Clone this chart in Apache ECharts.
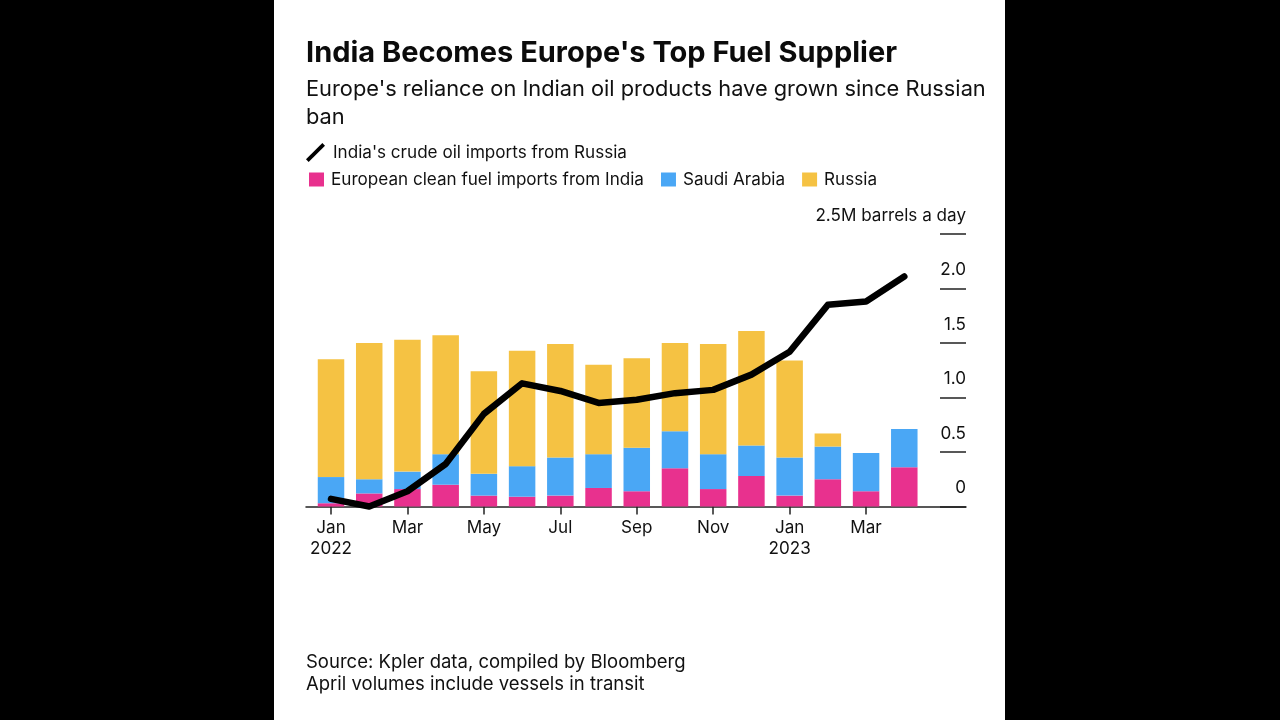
<!DOCTYPE html>
<html>
<head>
<meta charset="utf-8">
<style>
  html, body { margin: 0; padding: 0; background: #000; }
  #panel { position: absolute; left: 274px; top: 0; width: 731px; height: 720px; background: #fff; }
  #main { position: absolute; left: 0; top: 0; width: 1280px; height: 720px; }
</style>
<script src="https://cdn.jsdelivr.net/npm/echarts@6/dist/echarts.min.js"></script>
</head>
<body>
<div id="panel"></div>
<div id="main"></div>
<script>
const months = ['Jan\n2022', 'Feb', 'Mar', 'Apr', 'May', 'Jun', 'Jul', 'Aug', 'Sep', 'Oct', 'Nov', 'Dec', 'Jan\n2023', 'Feb', 'Mar', 'Apr']
const india = [0.03, 0.12, 0.16, 0.20, 0.10, 0.09, 0.10, 0.17, 0.14, 0.35, 0.16, 0.28, 0.10, 0.25, 0.14, 0.36]
const saudi = [0.24, 0.13, 0.16, 0.28, 0.20, 0.28, 0.35, 0.31, 0.40, 0.34, 0.32, 0.28, 0.35, 0.30, 0.35, 0.35]
const russia = [1.08, 1.25, 1.21, 1.09, 0.94, 1.06, 1.04, 0.82, 0.82, 0.81, 1.01, 1.05, 0.89, 0.12, 0, 0]
const crude = [0.07, 0.00, 0.14, 0.39, 0.85, 1.13, 1.06, 0.95, 0.98, 1.04, 1.07, 1.21, 1.42, 1.85, 1.88, 2.11]
const yTicks = { 0: '0', 0.5: '0.5', 1: '1.0', 1.5: '1.5', 2: '2.0', 2.5: '2.5M barrels a day' }

const font = 'Inter'
const ink = '#111'
const bar = function (name, arr, color) {
  return {
    name: name,
    type: 'bar',
    stack: 'fuel',
    barWidth: 26.5,
    data: arr,
    itemStyle: { color: color },
    emphasis: { disabled: true }
  }
}

const myChart = echarts.init(document.getElementById('main'))
myChart.setOption({
  animation: false,
  textStyle: { fontFamily: font },
  title: [
    {
      text: "India Becomes Europe's Top Fuel Supplier",
      left: 306, top: 39, padding: 0,
      textStyle: { fontFamily: font, fontSize: 29, fontWeight: 700, color: '#0b0b0b' }
    },
    {
      text: "Europe's reliance on Indian oil products have grown since Russian\nban",
      left: 306, top: 75, padding: 0,
      textStyle: { fontFamily: font, fontSize: 21.8, fontWeight: 400, lineHeight: 28.5, color: ink }
    },
    {
      text: 'Source: Kpler data, compiled by Bloomberg\nApril volumes include vessels in transit',
      left: 306, top: 651, padding: 0,
      textStyle: { fontFamily: font, fontSize: 18.5, fontWeight: 400, lineHeight: 22, color: ink }
    }
  ],
  legend: [
    {
      data: [{
        name: "India's crude oil imports from Russia",
        icon: 'path://M0 15.5 L2.5 18 L18 2.5 L15.5 0 Z',
        itemStyle: { color: '#000' }
      }],
      left: 306, top: 143, padding: 0,
      itemWidth: 19, itemHeight: 19, selectedMode: false,
      textStyle: { fontSize: 17.1, color: ink, padding: [0, 0, 0, 3] }
    },
    {
      data: ['European clean fuel imports from India', 'Saudi Arabia', 'Russia'],
      left: 309, top: 171, padding: 0,
      icon: 'rect',
      itemWidth: 15, itemHeight: 14, itemGap: 17, selectedMode: false,
      textStyle: { fontSize: 17.1, color: ink, padding: [0, 0, 0, 2] }
    }
  ],
  // first grid holds the bars, second one only the long baseline and the right hand scale
  grid: [
    { left: 311.9, width: 611.5, top: 234, bottom: 213.5 },
    { left: 306, right: 314, top: 234, bottom: 213.5 }
  ],
  xAxis: [
    {
      type: 'category',
      gridIndex: 0,
      data: months,
      axisLine: { show: false },
      axisTick: { show: true, alignWithLabel: true, interval: 1, length: 8, lineStyle: { color: '#222', width: 1.5 } },
      axisLabel: { interval: 1, margin: 11, fontSize: 17.1, lineHeight: 21, color: ink }
    },
    {
      type: 'value',
      gridIndex: 1,
      min: 0,
      max: 1,
      splitLine: { show: false },
      axisLine: { onZero: false, lineStyle: { color: '#222', width: 1.5 } },
      axisTick: { show: false },
      axisLabel: { show: false }
    }
  ],
  yAxis: [
    {
      type: 'value',
      gridIndex: 0,
      min: 0,
      max: 2.5,
      show: false
    },
    {
      type: 'value',
      gridIndex: 1,
      position: 'right',
      min: 0,
      max: 2.5,
      interval: 0.5,
      splitLine: { show: false },
      axisLine: { show: false, onZero: false },
      axisTick: { show: true, inside: true, length: 26, lineStyle: { color: '#222', width: 1.5 } },
      axisLabel: {
        inside: true,
        margin: 0,
        verticalAlign: 'bottom',
        padding: [0, 0, 10, 0],
        fontSize: 17.1,
        color: ink,
        formatter: function (value) {
          return yTicks[value]
        }
      }
    }
  ],
  series: [
    bar('European clean fuel imports from India', india, '#e8318e'),
    bar('Saudi Arabia', saudi, '#4aa7f5'),
    bar('Russia', russia, '#f5c243'),
    {
      name: "India's crude oil imports from Russia",
      type: 'line',
      data: crude,
      symbol: 'none',
      clip: false,
      z: 5,
      lineStyle: { color: '#000', width: 6.5, cap: 'round', join: 'round' },
      emphasis: { disabled: true }
    }
  ]
})
</script>
</body>
</html>
